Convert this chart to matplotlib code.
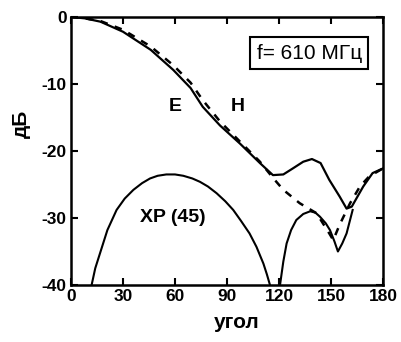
import matplotlib
matplotlib.use("Agg")
import matplotlib.pyplot as plt
import numpy as np

plt.rcParams['font.family'] = ['Liberation Sans', 'DejaVu Sans']
plt.rcParams['font.weight'] = 'bold'
plt.rcParams['axes.unicode_minus'] = False

# E-plane (solid)
e_ang = [0, 8, 17, 30, 46, 59, 69, 76, 86, 97.5, 109, 116.5, 122.5, 128, 134, 139, 144, 149, 155, 159, 162, 168.6, 174, 180]
e_db = [0, -0.2, -0.7, -2.2, -4.9, -7.9, -10.6, -13.4, -16.2, -18.9, -21.8, -23.6, -23.5, -22.6, -21.6, -21.2, -21.8, -24.3, -26.8, -28.6, -28.3, -25.3, -23.3, -22.6]

# H-plane (dashed)
h_ang = [0, 8, 17, 30, 46, 59, 69, 76, 86, 97.5, 109, 116.5, 122.5, 132, 141.7, 149, 151.3, 155, 161, 166.7, 172, 180]
h_db = [0, -0.2, -0.6, -1.9, -4.4, -7.2, -9.8, -12.4, -15.6, -18.6, -21.6, -24.0, -25.8, -27.8, -29.3, -32.3, -33.3, -31.0, -27.8, -25.3, -23.8, -22.6]

# cross-polar, 45 deg
xp_ang1 = [11.9, 14, 16.7, 21, 26.3, 31, 36, 41, 45.6, 50, 55, 60, 64.8, 70, 74.4, 79, 84, 89, 93.6, 98, 103, 107, 111, 113, 114.8]
xp_db1 = [-40, -37.5, -35.3, -31.8, -28.8, -27.1, -25.8, -24.8, -24.1, -23.7, -23.5, -23.5, -23.7, -24.1, -24.6, -25.3, -26.3, -27.5, -28.8, -30.4, -32.3, -34.3, -36.8, -38.4, -40]
xp_ang2 = [120.6, 122.5, 124.4, 127, 130, 134, 138, 141, 143.6, 147, 149.4, 152, 154, 156.5, 159, 161, 162.5]
xp_db2 = [-40, -36.5, -33.8, -31.8, -30.3, -29.4, -29.0, -29.2, -29.8, -30.8, -31.8, -33.5, -35.0, -33.8, -32.3, -30.3, -28.8]

xticks = [0, 30, 60, 90, 120, 150, 180]
yticks = [0, -10, -20, -30, -40]

fig = plt.figure(figsize=(4.02, 3.42), dpi=100)
ax = fig.add_axes([0.1766, 0.1667, 0.7761, 0.7836])

ax.plot(e_ang, e_db, color='black', lw=1.6, solid_joinstyle='round')
ax.plot(h_ang, h_db, color='black', lw=1.8, dashes=(3, 3))
ax.plot(xp_ang1, xp_db1, color='black', lw=1.5)
ax.plot(xp_ang2, xp_db2, color='black', lw=1.5)

ax.set_xlim(0, 180)
ax.set_ylim(-40, 0)
ax.set_xticks(xticks)
ax.set_yticks(yticks)
ax.tick_params(direction='in', length=5, width=1.5, top=True, right=True,
               labelsize=12.5, pad=3)
for lab in ax.get_xticklabels() + ax.get_yticklabels():
    lab.set_fontweight('bold')
for s in ax.spines.values():
    s.set_linewidth(1.8)

ax.set_xlabel('угол', fontsize=15, fontweight='bold')
ax.set_ylabel('дБ', fontsize=15, fontweight='bold')
ax.xaxis.set_label_coords(0.53, -0.105)
ax.yaxis.set_label_coords(-0.128, 0.60)

ax.text(60, -13.4, 'E', fontsize=14, fontweight='bold', ha='center', va='center')
ax.text(96.3, -13.4, 'H', fontsize=14, fontweight='bold', ha='center', va='center')
ax.text(59, -30, 'XP (45)', fontsize=14, fontweight='bold', ha='center', va='center')
ax.text(137.5, -5.4, 'f= 610 МГц', fontsize=15, ha='center', va='center',
        fontweight='normal',
        bbox=dict(boxstyle='square,pad=0.3', facecolor='white', edgecolor='black', lw=1.5))

fig.savefig('out.png', dpi=100)
